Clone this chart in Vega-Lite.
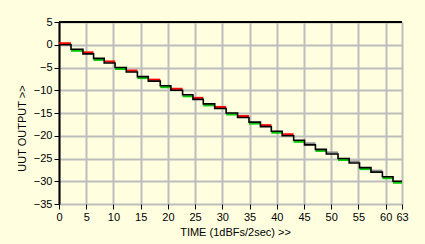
{
  "$schema": "https://vega.github.io/schema/vega-lite/v6.json",
  "autosize": {"type": "none"},
  "width": 343,
  "height": 182,
  "padding": {"left": 59, "top": 22, "right": 23, "bottom": 40},
  "background": "#FFFFE0",
  "config": {
    "view": {"stroke": null},
    "font": "Liberation Sans",
    "axis": {
      "grid": true,
      "gridColor": "#BDBDBD",
      "gridWidth": 2,
      "tickColor": "#000000",
      "tickSize": 5,
      "labelOverlap": false,
      "labelFont": "Liberation Sans",
      "labelFontSize": 11,
      "labelColor": "#000000",
      "titleFont": "Liberation Sans",
      "titleFontSize": 11,
      "titleFontWeight": "normal",
      "titleColor": "#000000"
    }
  },
  "datasets": {
    "trace": [
      {"t": 0, "lvl": 0}, {"t": 2.2, "lvl": -1}, {"t": 4.4, "lvl": -2}, {"t": 6.35, "lvl": -3},
      {"t": 8.3, "lvl": -4}, {"t": 10.3, "lvl": -5}, {"t": 12.35, "lvl": -6}, {"t": 14.4, "lvl": -7},
      {"t": 16.4, "lvl": -8}, {"t": 18.6, "lvl": -9}, {"t": 20.55, "lvl": -10}, {"t": 22.7, "lvl": -11},
      {"t": 24.6, "lvl": -12}, {"t": 26.5, "lvl": -13}, {"t": 28.6, "lvl": -14}, {"t": 30.7, "lvl": -15},
      {"t": 32.8, "lvl": -16}, {"t": 34.9, "lvl": -17}, {"t": 37.0, "lvl": -18}, {"t": 39.0, "lvl": -19},
      {"t": 41.0, "lvl": -20}, {"t": 43.1, "lvl": -21}, {"t": 45.1, "lvl": -22}, {"t": 47.1, "lvl": -23},
      {"t": 49.1, "lvl": -24}, {"t": 51.25, "lvl": -25}, {"t": 53.3, "lvl": -26}, {"t": 55.2, "lvl": -27},
      {"t": 57.3, "lvl": -28}, {"t": 59.4, "lvl": -29}, {"t": 61.35, "lvl": -30}, {"t": 63, "lvl": -30}
    ],
    "dev": [
      {"t": 0, "t2": 2.2, "lvl": 0, "dev": "high"},
      {"t": 2.2, "t2": 4.4, "lvl": -1, "dev": "low"},
      {"t": 4.4, "t2": 6.35, "lvl": -2, "dev": "high"},
      {"t": 6.35, "t2": 8.3, "lvl": -3, "dev": "low"},
      {"t": 8.3, "t2": 10.3, "lvl": -4, "dev": "high"},
      {"t": 10.3, "t2": 12.35, "lvl": -5, "dev": "low"},
      {"t": 12.35, "t2": 14.4, "lvl": -6, "dev": "high"},
      {"t": 14.4, "t2": 16.4, "lvl": -7, "dev": "low"},
      {"t": 16.4, "t2": 18.6, "lvl": -8, "dev": "high"},
      {"t": 18.6, "t2": 20.55, "lvl": -9, "dev": "low"},
      {"t": 20.55, "t2": 22.7, "lvl": -10, "dev": "high"},
      {"t": 22.7, "t2": 24.6, "lvl": -11, "dev": "low"},
      {"t": 24.6, "t2": 26.5, "lvl": -12, "dev": "high"},
      {"t": 26.5, "t2": 28.6, "lvl": -13, "dev": "low"},
      {"t": 28.6, "t2": 30.7, "lvl": -14, "dev": "high"},
      {"t": 30.7, "t2": 32.8, "lvl": -15, "dev": "low"},
      {"t": 32.8, "t2": 34.9, "lvl": -16, "dev": "high"},
      {"t": 34.9, "t2": 37.0, "lvl": -17, "dev": "low"},
      {"t": 37.0, "t2": 39.0, "lvl": -18, "dev": "high"},
      {"t": 39.0, "t2": 41.0, "lvl": -19, "dev": "low"},
      {"t": 41.0, "t2": 43.1, "lvl": -20, "dev": "high"},
      {"t": 43.1, "t2": 45.1, "lvl": -21, "dev": "low"},
      {"t": 45.1, "t2": 47.1, "lvl": -22, "dev": "equal"},
      {"t": 47.1, "t2": 49.1, "lvl": -23, "dev": "low"},
      {"t": 49.1, "t2": 51.25, "lvl": -24, "dev": "equal"},
      {"t": 51.25, "t2": 53.3, "lvl": -25, "dev": "low"},
      {"t": 53.3, "t2": 55.2, "lvl": -26, "dev": "equal"},
      {"t": 55.2, "t2": 57.3, "lvl": -27, "dev": "low"},
      {"t": 57.3, "t2": 59.4, "lvl": -28, "dev": "equal"},
      {"t": 59.4, "t2": 61.35, "lvl": -29, "dev": "low"},
      {"t": 61.35, "t2": 63, "lvl": -30, "dev": "low"}
    ],
    "frame": [{"lvl": 5}]
  },
  "encoding": {
    "x": {
      "field": "t", "type": "quantitative",
      "scale": {"domain": [0, 63], "nice": false, "zero": false},
      "axis": {
        "values": [0, 5, 10, 15, 20, 25, 30, 35, 40, 45, 50, 55, 60, 63],
        "title": "TIME (1dBFs/2sec) >>",
        "titleX": 176,
        "titlePadding": 4,
        "domain": false,
        "labelPadding": 2,
        "labelFlush": false
      }
    },
    "y": {
      "field": "lvl", "type": "quantitative",
      "scale": {"domain": [-35, 5], "nice": false, "zero": false},
      "axis": {
        "values": [-35, -30, -25, -20, -15, -10, -5, 0, 5],
        "title": "UUT OUTPUT >>",
        "titleY": 106,
        "titlePadding": 6,
        "domainColor": "#000000",
        "domainWidth": 2,
        "labelPadding": 2
      }
    }
  },
  "layer": [
    {
      "data": {"name": "frame"},
      "mark": {"type": "rule", "color": "#000000", "strokeWidth": 2},
      "encoding": {"x": null}
    },
    {
      "data": {"name": "dev"},
      "transform": [{"filter": "datum.dev !== 'low'"}],
      "mark": {"type": "rule", "strokeWidth": 2, "yOffset": -1.5},
      "encoding": {
        "x2": {"field": "t2"},
        "color": {
          "field": "dev", "type": "nominal", "legend": null,
          "scale": {"domain": ["high", "equal", "low"], "range": ["#FF0000", "#8C8C8C", "#00C800"]}
        }
      }
    },
    {
      "data": {"name": "dev"},
      "transform": [{"filter": "datum.dev === 'low'"}],
      "mark": {"type": "rule", "strokeWidth": 2, "yOffset": 1.5},
      "encoding": {
        "x2": {"field": "t2"},
        "color": {"field": "dev", "type": "nominal", "legend": null}
      }
    },
    {
      "data": {"name": "trace"},
      "mark": {"type": "line", "interpolate": "step-after", "color": "#000000", "strokeWidth": 1.6}
    }
  ]
}
